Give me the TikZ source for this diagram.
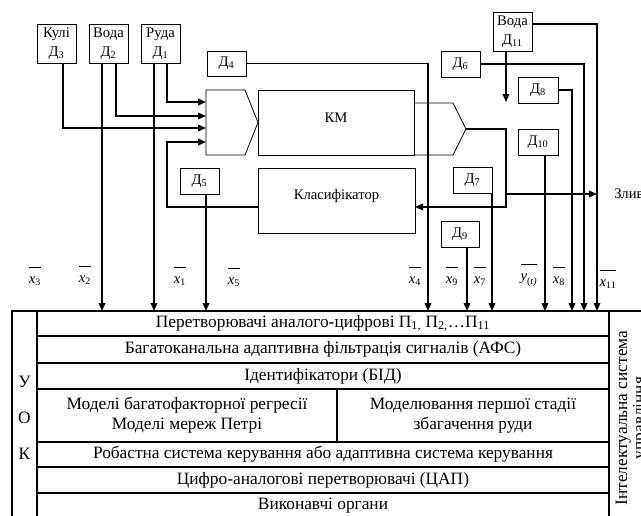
\documentclass[tikz,border=0pt]{standalone}
\usepackage{fontspec}
\setmainfont{Liberation Serif}
\usetikzlibrary{calc,arrows.meta}
\newcommand{\xl}[2]{$\overline{\rule{0pt}{11pt}\mbox{\itshape #1}_{\mbox{\fontsize{7.5}{8}\selectfont #2}}}$}
% \bx{name}{x1}{y1}{x2}{y2}{style}{text}
\newcommand{\bx}[7]{\node[#6,minimum width={(#4-#2)*0.75pt},minimum height={(#5-#3)*0.75pt}] (#1) at ({(#2+#4)/2},{(#3+#5)/2}) {#7};}
\newcommand{\up}[1]{\raisebox{3.5pt}[\height][\depth]{#1}}
\begin{document}
\begin{tikzpicture}[x=0.75pt,y=-0.75pt,
  box/.style={draw,line width=0.6pt,inner sep=0pt,outer sep=0pt,align=center,font=\fontsize{11}{14}\selectfont},
  blank/.style={inner sep=0pt,outer sep=0pt},
  shp/.style={line width=0.6pt},
  conn/.style={line width=0.9pt},
  arr/.style={conn,-{Triangle[length=6pt,width=5pt]}},
  row/.style={draw,line width=0.8pt,inner sep=0pt,outer sep=0pt,align=center,font=\fontsize{13}{15}\selectfont},
  lbl/.style={inner sep=0pt,font=\fontsize{11}{13}\selectfont}]
\useasboundingbox (0,0) rectangle (641,515);
\clip (0,0) rectangle (641,515);

% sensor boxes
\bx{d3}{37}{24}{76}{63}{box}{Кулі\\Д\textsubscript{3}}
\bx{d2}{89}{24}{128}{63}{box}{Вода\\Д\textsubscript{2}}
\bx{d1}{141}{24}{180}{63}{box}{Руда\\Д\textsubscript{1}}
\bx{d11}{493}{12}{532}{51}{box}{Вода\\Д\textsubscript{11}}
\bx{d4}{207}{51}{246}{76}{box}{Д\textsubscript{4}}
\bx{d5}{180}{168}{219}{194}{box}{Д\textsubscript{5}}
\bx{d6}{441}{51}{480}{77}{box}{Д\textsubscript{6}}
\bx{d8}{518}{77}{558}{103}{box}{Д\textsubscript{8}}
\bx{d10}{518}{129}{558}{155}{box}{Д\textsubscript{10}}
\bx{d7}{453}{167}{492}{193}{box}{Д\textsubscript{7}}
\bx{d9}{441}{221}{479}{247}{box}{Д\textsubscript{9}}

% mill, feeder, discharge, classifier
\bx{km}{258}{90}{414}{155}{box}{\up{КМ}}
\bx{cls}{258}{168}{415}{233}{box}{\up{Класифікатор}}
\bx{feed}{206}{90}{258}{155}{blank}{}
\draw[shp] (feed.north west) -- ($(feed.north west)+(39,0)$) -- (feed.east)
  -- ($(feed.south west)+(39,0)$) -- (feed.south west) -- cycle;
\bx{outm}{414}{103}{466}{155}{blank}{}
\draw[shp] (outm.north west) -- ($(outm.north west)+(39,0)$) -- (outm.east)
  -- ($(outm.south west)+(39,0)$) -- (outm.south west);

% table
\bx{r1}{37}{311}{609}{336}{row}{Перетворювачі аналого-цифрові П\textsubscript{1,} П\textsubscript{2,}…П\textsubscript{11}}
\bx{r2}{37}{336}{609}{363}{row}{Багатоканальна адаптивна фільтрація сигналів (АФС)}
\bx{r3}{37}{363}{609}{389}{row}{Ідентифікатори (БІД)}
\bx{r4a}{37}{389}{337}{442}{row}{Моделі багатофакторної регресії\\Моделі мереж Петрі}
\bx{r4b}{337}{389}{609}{442}{row}{Моделювання першої стадії\\збагачення руди}
\bx{r5}{37}{442}{609}{467}{row}{Робастна система керування або адаптивна система керування}
\bx{r6}{37}{467}{609}{493}{row}{Цифро-аналогові перетворювачі (ЦАП)}
\bx{r7}{37}{493}{609}{519}{row}{Виконавчі органи}
\bx{uok}{12}{311}{37}{525}{row,font=\fontsize{13}{27}\selectfont}{У\\О\\К}
\bx{isu}{609}{311}{662}{525}{row}{}
\node[rotate=90,align=center,inner sep=0pt,font=\fontsize{13}{13}\selectfont] (isut) at (632,418) {Інтелектуальна система\\управління};

% inputs to feeder
\draw[arr] ($(d1.south)+(6.5,0)$) |- ($(feed.north west)+(0,12)$);
\draw[arr] ($(d2.south)+(7.5,0)$) |- ($(feed.north west)+(0,26)$);
\draw[arr] ($(d3.south)+(6.5,0)$) |- ($(feed.north west)+(0,38)$);
\draw[arr] ($(cls.west)+(0,6.5)$) -| ($(feed.north west)+(-39,52)$) -- ($(feed.north west)+(0,52)$);

% measurement lines to table
\draw[arr] ($(d2.south)+(-6.5,0)$) coordinate (p2) -- (p2 |- r1.north);
\draw[arr] ($(d1.south)+(-6.5,0)$) coordinate (p1) -- (p1 |- r1.north);
\draw[arr] ($(d5.south)+(6.5,0)$) coordinate (p5) -- (p5 |- r1.north);
\draw[arr] (d4.east) -| ($(r1.north west)+(391,0)$);
\draw[arr] ($(d9.south)+(7,0)$) coordinate (p9) -- (p9 |- r1.north);
\draw[arr] (d7.south east) coordinate (p7) -- (p7 |- r1.north);
\draw[arr] ($(d10.south)+(7,0)$) coordinate (p10) -- (p10 |- r1.north);
\draw[arr] (d8.east) -| ($(r1.north west)+(535,0)$);
\draw[arr] (d6.east) -| ($(r1.north west)+(547,0)$);
\draw[arr] ($(d11.east)+(0,-7.5)$) -| ($(r1.north west)+(560,0)$);

% water into discharge, recycle, drain
\coordinate (kmin) at (506,102);
\draw[arr] (d11.south -| kmin) -- (kmin);
\draw[arr] (outm.east) -| ($(cls.east)+(91,6.5)$) -- ($(cls.east)+(0,6.5)$);
\node[anchor=west,inner sep=0pt,font=\fontsize{11}{13}\selectfont] (zliv) at (614,194) {Злив};
\draw[arr] ($(cls.east)+(91,-6.5)$) -- ($(zliv.west)+(-17,0)$);

% labels
\node[lbl] (l3) at (35,276) {\xl{x}{3}};
\node[lbl] (l2) at (85,275) {\xl{x}{2}};
\node[lbl] (l1) at (180,276) {\xl{x}{1}};
\node[lbl] (l5) at (234,277) {\xl{x}{5}};
\node[lbl] (l4) at (415,276) {\xl{x}{4}};
\node[lbl] (l9) at (452,276) {\xl{x}{9}};
\node[lbl] (l7) at (480,276) {\xl{x}{7}};
\node[lbl] (ly) at (529,275) {\xl{y}{(\itshape t\/)}};
\node[lbl] (l8) at (559,276) {\xl{x}{8}};
\node[lbl] (l11) at (608,279) {\xl{x}{11}};
\end{tikzpicture}
\end{document}
